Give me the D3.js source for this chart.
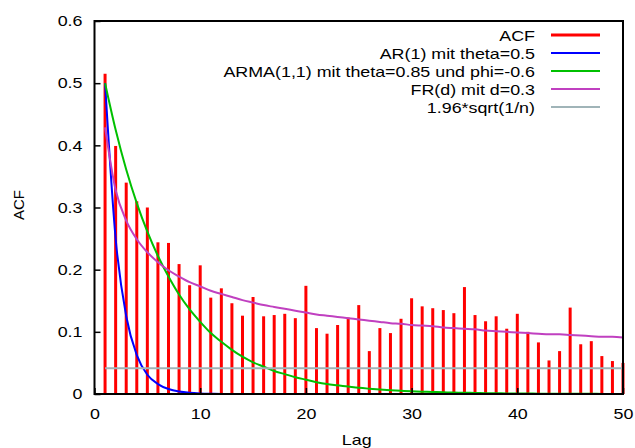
<!DOCTYPE html>
<html>
<head>
<meta charset="utf-8">
<script src="https://cdn.jsdelivr.net/npm/d3@7"></script>
<style>
  html, body { margin: 0; padding: 0; background: #fff; }
  svg { display: block; font-family: "Liberation Sans", Arial, sans-serif; }
</style>
</head>
<body>
<svg id="chart" width="635" height="448"></svg>
<script>
// ---- data ----
const lags = d3.range(1, 51);
const acf = [0.515, 0.399, 0.340, 0.310, 0.300, 0.244, 0.243, 0.209, 0.175, 0.207,
             0.155, 0.170, 0.146, 0.126, 0.156, 0.125, 0.127, 0.129, 0.122, 0.174,
             0.106, 0.097, 0.111, 0.123, 0.143, 0.069, 0.106, 0.098, 0.121, 0.154,
             0.141, 0.138, 0.135, 0.130, 0.172, 0.127, 0.117, 0.125, 0.105, 0.129,
             0.100, 0.083, 0.054, 0.069, 0.139, 0.080, 0.085, 0.061, 0.053, 0.050];
const ar1 = [0.5, 0.25, 0.125, 0.0625, 0.031, 0.016, 0.008, 0.004, 0.002, 0.001,
             0.0005, 0.0002, 0.0001, 0, 0, 0, 0, 0, 0, 0,
             0, 0, 0, 0, 0, 0, 0, 0, 0, 0,
             0, 0, 0, 0, 0, 0, 0, 0, 0, 0,
             0, 0, 0, 0, 0, 0, 0, 0, 0, 0];
const arma = [0.5, 0.425, 0.361, 0.307, 0.261, 0.222, 0.189, 0.160, 0.136, 0.116,
              0.098, 0.084, 0.071, 0.060, 0.051, 0.044, 0.037, 0.032, 0.027, 0.023,
              0.019, 0.016, 0.014, 0.012, 0.010, 0.0085, 0.0072, 0.0061, 0.0052, 0.0044,
              0.0038, 0.0032, 0.0027, 0.0023, 0.0020, 0.0017, 0.0014, 0.0012, 0.0010, 0.0009,
              0.0007, 0.0006, 0.0005, 0.0004, 0.0004, 0.0003, 0.0003, 0.0002, 0.0002, 0.0002];
const frd = [0.429, 0.328, 0.279, 0.249, 0.228, 0.212, 0.199, 0.189, 0.180, 0.173,
             0.166, 0.161, 0.156, 0.151, 0.147, 0.143, 0.140, 0.137, 0.134, 0.131,
             0.128, 0.126, 0.124, 0.122, 0.120, 0.118, 0.116, 0.114, 0.113, 0.111,
             0.110, 0.109, 0.107, 0.106, 0.105, 0.104, 0.102, 0.101, 0.100, 0.099,
             0.098, 0.097, 0.096, 0.096, 0.095, 0.094, 0.093, 0.092, 0.092, 0.091];
const bound = 0.0415;
const xTicks = [0, 10, 20, 30, 40, 50];
const yTicks = [0, 0.1, 0.2, 0.3, 0.4, 0.5, 0.6];
const legendLabels = ["ACF", "AR(1) mit theta=0.5", "ARMA(1,1) mit theta=0.85 und phi=-0.6",
                      "FR(d) mit d=0.3", "1.96*sqrt(1/n)"];
const colors = ["#ff0000", "#0000ff", "#00c000", "#c040c0", "#a0b4b8"];

// ---- layout ----
const FS = 15, STRETCH = 1.19;
const svg = d3.select("#chart");
const L = 94.5, R = 623, T = 21, B = 394;
const x = d3.scaleLinear().domain([0, 50]).range([L, R]);
const y = d3.scaleLinear().domain([0, 0.6]).range([B, T]);

// text widened horizontally like the reference's
function widen(sel) {
  sel.each(function () {
    const w = this.getComputedTextLength();
    d3.select(this).attr("textLength", w * STRETCH).attr("lengthAdjust", "spacingAndGlyphs");
  });
}

// bars (impulses)
svg.append("g").selectAll("line").data(lags).join("line")
  .attr("x1", d => x(d)).attr("x2", d => x(d))
  .attr("y1", y(0)).attr("y2", (d, i) => y(acf[i]))
  .attr("stroke", colors[0]).attr("stroke-width", 3);

const line = d3.line().x(d => x(d[0])).y(d => y(d[1])).curve(d3.curveMonotoneX);
function curve(vals, color) {
  svg.append("path").datum(lags.map((l, i) => [l, vals[i]]))
    .attr("d", line).attr("fill", "none").attr("stroke", color).attr("stroke-width", 2);
}
curve(ar1, colors[1]);
curve(arma, colors[2]);
curve(frd, colors[3]);
svg.append("line").attr("x1", x(1)).attr("x2", x(50))
  .attr("y1", y(bound)).attr("y2", y(bound))
  .attr("stroke", colors[4]).attr("stroke-width", 2);

// axes
const yAxis = d3.axisLeft(y).tickValues(yTicks).tickSizeInner(-6).tickSizeOuter(0)
  .tickPadding(12).tickFormat(d => d === 0 ? "0" : d3.format(".1f")(d));
const gy = svg.append("g").attr("transform", `translate(${L},0)`).call(yAxis);
const xAxis = d3.axisBottom(x).tickValues(xTicks).tickSizeInner(-6).tickSizeOuter(0)
  .tickPadding(14).tickFormat(d3.format("d"));
const gx = svg.append("g").attr("transform", `translate(0,${B})`).call(xAxis);
[gx, gy].forEach(g => {
  g.select(".domain").remove();
  g.selectAll(".tick line").attr("stroke", "#000").attr("stroke-width", 1.5);
  g.selectAll("text").attr("font-size", FS).attr("fill", "#000")
    .attr("font-family", "Liberation Sans, Arial, sans-serif").call(widen);
});

// border
svg.append("rect").attr("x", L).attr("y", T).attr("width", R - L).attr("height", B - T)
  .attr("fill", "none").attr("stroke", "#000").attr("stroke-width", 2);

// axis labels
svg.append("text").attr("x", (L + R) / 2 - 2).attr("y", 445).attr("text-anchor", "middle")
  .attr("font-size", FS).text("Lag").call(widen);
svg.append("text").attr("transform", "translate(23.5,205) rotate(-90)")
  .attr("text-anchor", "middle").attr("font-size", FS).text("ACF");

// legend
const lg = svg.append("g");
legendLabels.forEach((t, i) => {
  const yy = 35 + i * 18;
  lg.append("text").attr("x", 535).attr("y", yy + 5.5).attr("text-anchor", "end")
    .attr("font-size", FS).text(t).call(widen);
  lg.append("line").attr("x1", 551).attr("x2", 600).attr("y1", yy).attr("y2", yy)
    .attr("stroke", colors[i]).attr("stroke-width", i === 0 ? 3 : 2);
});
</script>
</body>
</html>
